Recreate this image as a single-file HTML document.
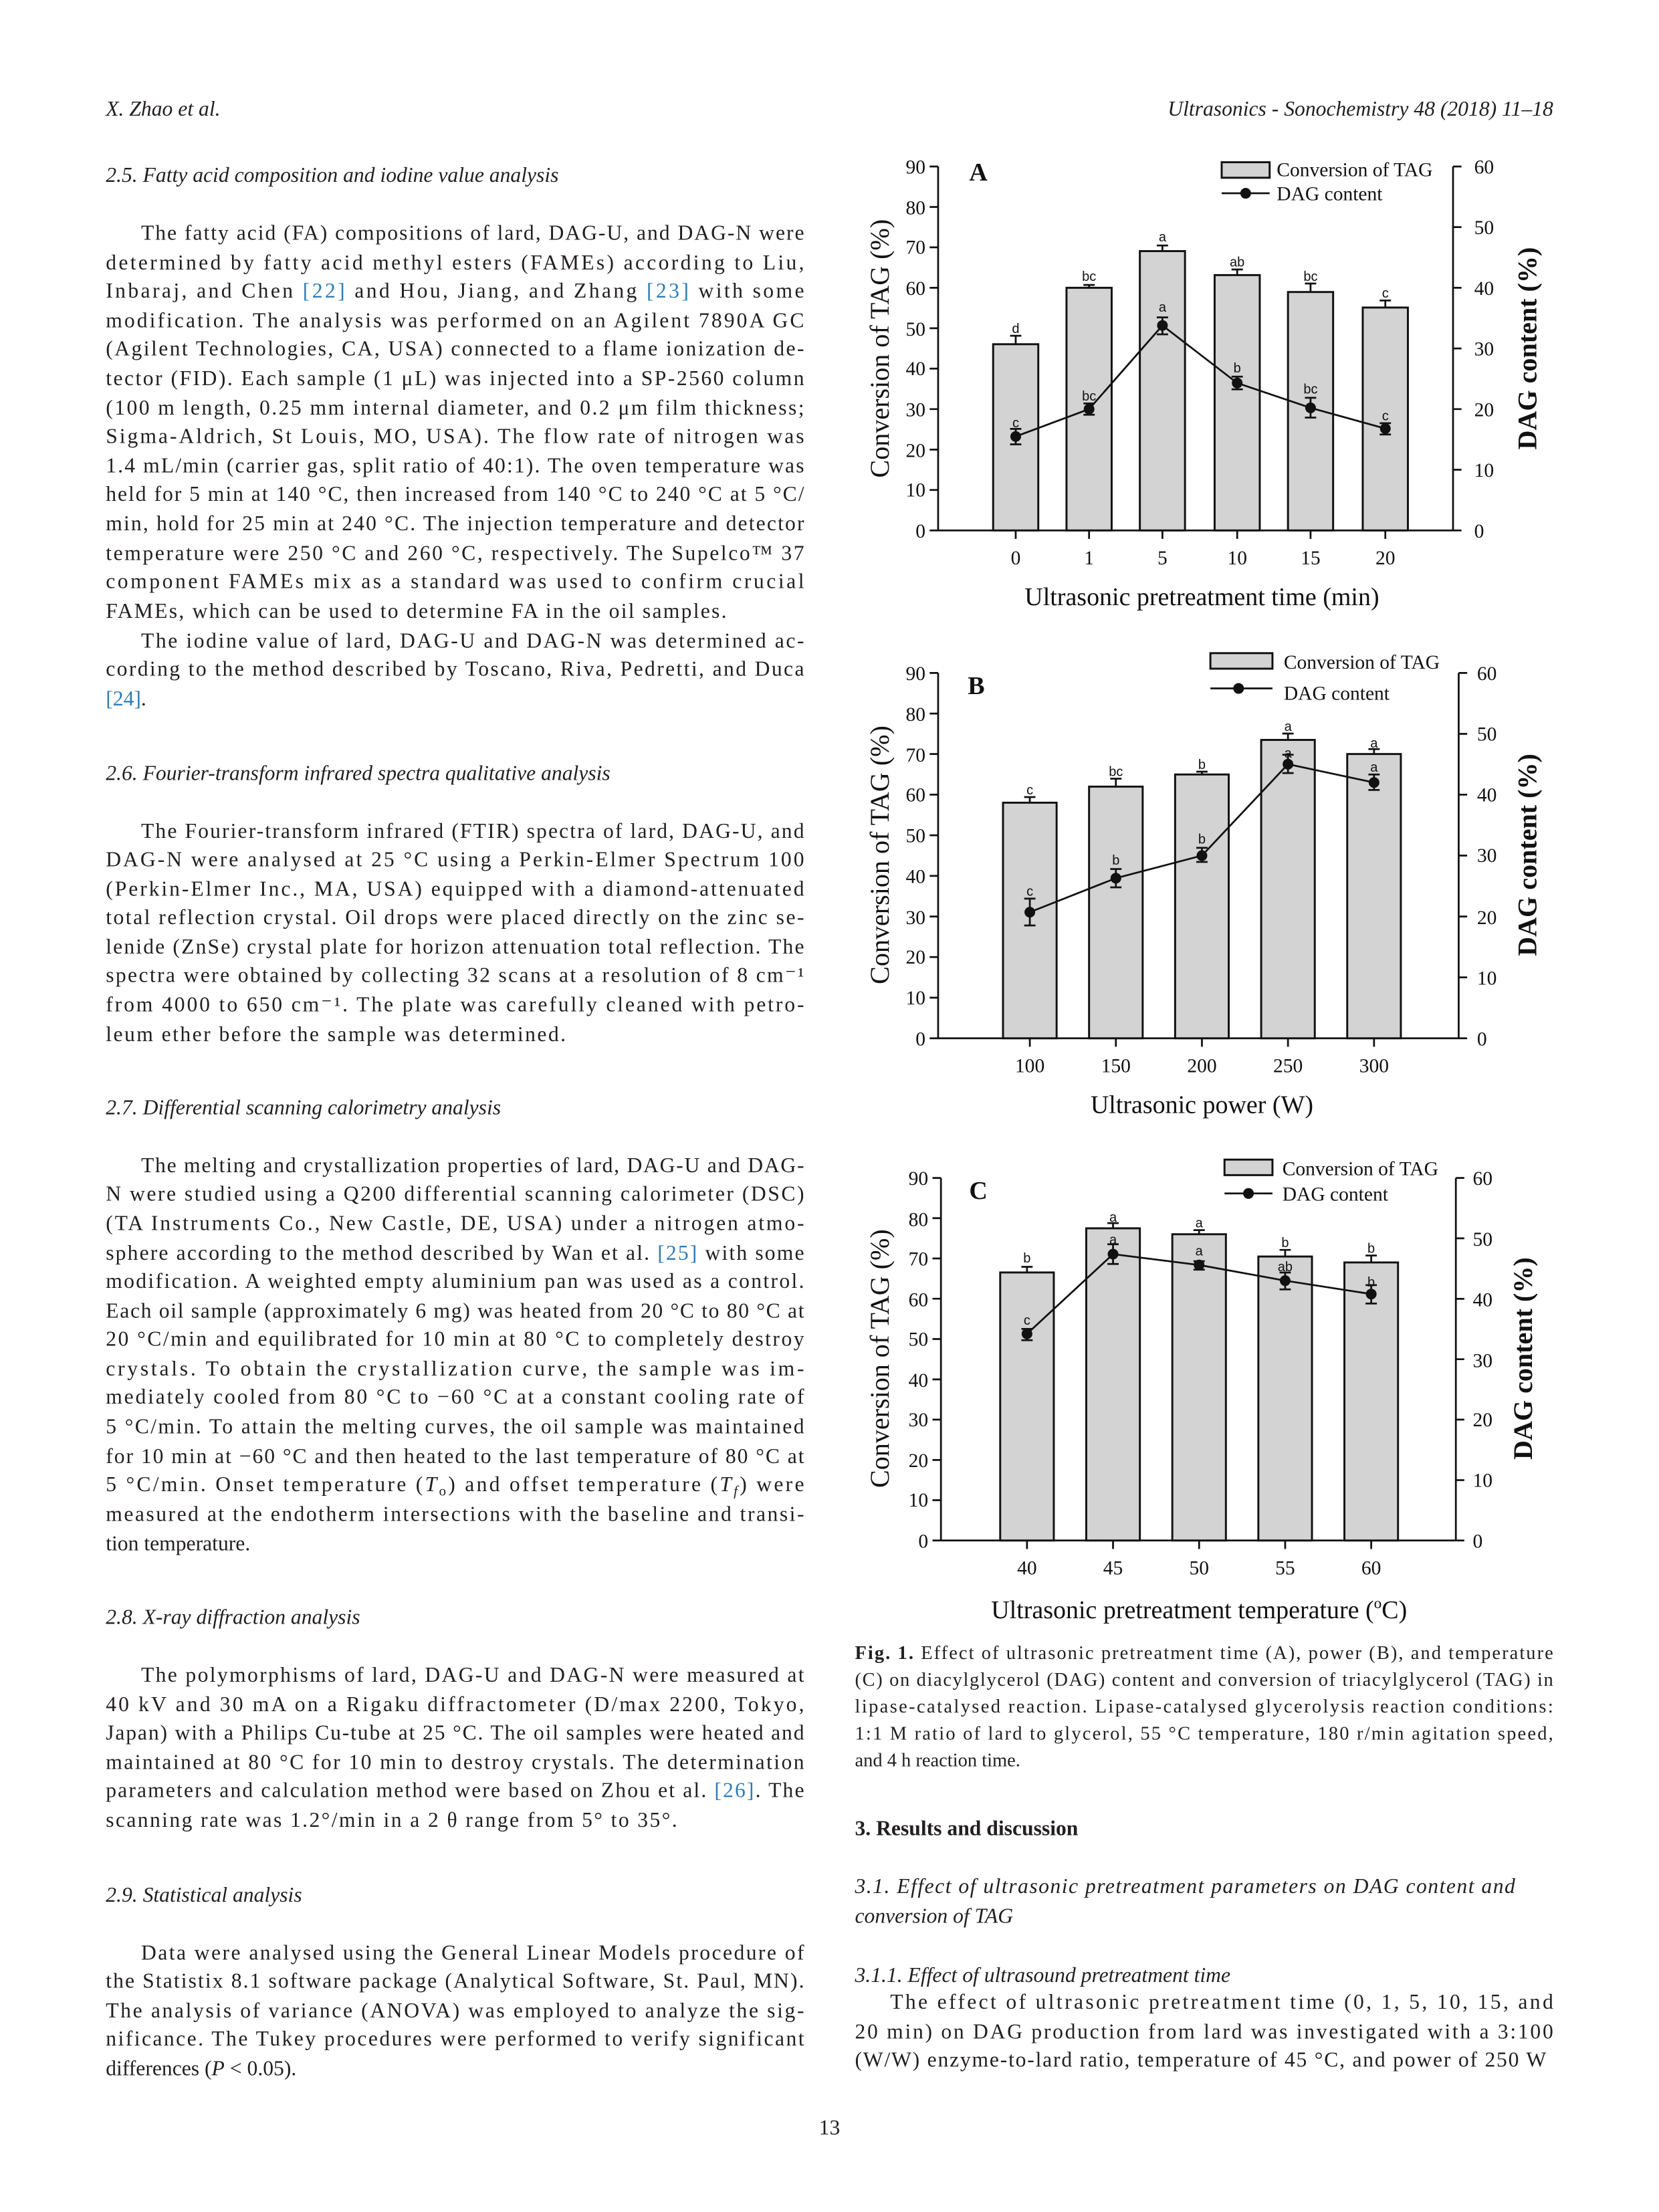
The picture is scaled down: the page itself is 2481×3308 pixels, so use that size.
<!DOCTYPE html>
<html><head><meta charset="utf-8"><style>
html,body{margin:0;padding:0;background:#fff;}
svg{display:block;}
.b{font-family:"Liberation Serif",serif;font-size:15px;fill:#231f20;}
.i{font-style:italic;}
.c{fill:#2f7cb5;}
.t{font-family:"Liberation Serif",serif;font-size:14px;fill:#111;}
.ax{font-family:"Liberation Serif",serif;font-size:18px;fill:#111;}
.yl{font-family:"Liberation Serif",serif;font-size:19px;fill:#111;}
.lt{font-family:"Liberation Sans",sans-serif;font-size:9.5px;fill:#111;}
.bar{fill:#d3d3d3;stroke:#111;stroke-width:1.4;}
.k{stroke:#111;stroke-width:1.3;fill:none;}
.cap{font-family:"Liberation Serif",serif;font-size:13.5px;fill:#231f20;}
</style></head><body>
<svg width="2481" height="3308" viewBox="0 0 1176 1568" xmlns="http://www.w3.org/2000/svg">
<rect width="1176" height="1568" fill="#fff"/>
<!-- header -->
<text x="75" y="82" class="b i" font-size="12.5">X. Zhao et al.</text>
<text x="1101" y="82" class="b i" font-size="12.5" text-anchor="end">Ultrasonics - Sonochemistry 48 (2018) 11–18</text>

<!-- left column -->
<text x="75" y="129" class="b i">2.5.  Fatty acid composition and iodine value analysis</text>
<text x="100" y="170" class="b" textLength="470" lengthAdjust="spacing">The fatty acid (FA) compositions of lard, DAG-U, and DAG-N were</text>
<text x="75" y="191" class="b" textLength="495" lengthAdjust="spacing">determined by fatty acid methyl esters (FAMEs) according to Liu,</text>
<text x="75" y="211" class="b" textLength="495" lengthAdjust="spacing">Inbaraj, and Chen <tspan class="c">[22]</tspan> and Hou, Jiang, and Zhang <tspan class="c">[23]</tspan> with some</text>
<text x="75" y="232" class="b" textLength="495" lengthAdjust="spacing">modification. The analysis was performed on an Agilent 7890A GC</text>
<text x="75" y="252" class="b" textLength="495" lengthAdjust="spacing">(Agilent Technologies, CA, USA) connected to a flame ionization de-</text>
<text x="75" y="273" class="b" textLength="495" lengthAdjust="spacing">tector (FID). Each sample (1 μL) was injected into a SP-2560 column</text>
<text x="75" y="294" class="b" textLength="495" lengthAdjust="spacing">(100 m length, 0.25 mm internal diameter, and 0.2 μm film thickness;</text>
<text x="75" y="314" class="b" textLength="495" lengthAdjust="spacing">Sigma-Aldrich, St Louis, MO, USA). The flow rate of nitrogen was</text>
<text x="75" y="335" class="b" textLength="495" lengthAdjust="spacing">1.4 mL/min (carrier gas, split ratio of 40:1). The oven temperature was</text>
<text x="75" y="355" class="b" textLength="495" lengthAdjust="spacing">held for 5 min at 140 °C, then increased from 140 °C to 240 °C at 5 °C/</text>
<text x="75" y="376" class="b" textLength="495" lengthAdjust="spacing">min, hold for 25 min at 240 °C. The injection temperature and detector</text>
<text x="75" y="397" class="b" textLength="495" lengthAdjust="spacing">temperature were 250 °C and 260 °C, respectively. The Supelco™ 37</text>
<text x="75" y="417" class="b" textLength="495" lengthAdjust="spacing">component FAMEs mix as a standard was used to confirm crucial</text>
<text x="75" y="438" class="b" textLength="440" lengthAdjust="spacing">FAMEs, which can be used to determine FA in the oil samples.</text>
<text x="100" y="459" class="b" textLength="470" lengthAdjust="spacing">The iodine value of lard, DAG-U and DAG-N was determined ac-</text>
<text x="75" y="479" class="b" textLength="495" lengthAdjust="spacing">cording to the method described by Toscano, Riva, Pedretti, and Duca</text>
<text x="75" y="500" class="b c">[24]<tspan fill="#231f20">.</tspan></text>

<text x="75" y="553" class="b i">2.6.  Fourier-transform infrared spectra qualitative analysis</text>
<text x="100" y="594" class="b" textLength="470" lengthAdjust="spacing">The Fourier-transform infrared (FTIR) spectra of lard, DAG-U, and</text>
<text x="75" y="614" class="b" textLength="495" lengthAdjust="spacing">DAG-N were analysed at 25 °C using a Perkin-Elmer Spectrum 100</text>
<text x="75" y="635" class="b" textLength="495" lengthAdjust="spacing">(Perkin-Elmer Inc., MA, USA) equipped with a diamond-attenuated</text>
<text x="75" y="655" class="b" textLength="495" lengthAdjust="spacing">total reflection crystal. Oil drops were placed directly on the zinc se-</text>
<text x="75" y="676" class="b" textLength="495" lengthAdjust="spacing">lenide (ZnSe) crystal plate for horizon attenuation total reflection. The</text>
<text x="75" y="696" class="b" textLength="495" lengthAdjust="spacing">spectra were obtained by collecting 32 scans at a resolution of 8 cm⁻¹</text>
<text x="75" y="717" class="b" textLength="495" lengthAdjust="spacing">from 4000 to 650 cm⁻¹. The plate was carefully cleaned with petro-</text>
<text x="75" y="738" class="b" textLength="326" lengthAdjust="spacing">leum ether before the sample was determined.</text>

<text x="75" y="790" class="b i">2.7.  Differential scanning calorimetry analysis</text>
<text x="100" y="831" class="b" textLength="470" lengthAdjust="spacing">The melting and crystallization properties of lard, DAG-U and DAG-</text>
<text x="75" y="851" class="b" textLength="495" lengthAdjust="spacing">N were studied using a Q200 differential scanning calorimeter (DSC)</text>
<text x="75" y="872" class="b" textLength="495" lengthAdjust="spacing">(TA Instruments Co., New Castle, DE, USA) under a nitrogen atmo-</text>
<text x="75" y="893" class="b" textLength="495" lengthAdjust="spacing">sphere according to the method described by Wan et al. <tspan class="c">[25]</tspan> with some</text>
<text x="75" y="913" class="b" textLength="495" lengthAdjust="spacing">modification. A weighted empty aluminium pan was used as a control.</text>
<text x="75" y="934" class="b" textLength="495" lengthAdjust="spacing">Each oil sample (approximately 6 mg) was heated from 20 °C to 80 °C at</text>
<text x="75" y="954" class="b" textLength="495" lengthAdjust="spacing">20 °C/min and equilibrated for 10 min at 80 °C to completely destroy</text>
<text x="75" y="975" class="b" textLength="495" lengthAdjust="spacing">crystals. To obtain the crystallization curve, the sample was im-</text>
<text x="75" y="995" class="b" textLength="495" lengthAdjust="spacing">mediately cooled from 80 °C to −60 °C at a constant cooling rate of</text>
<text x="75" y="1016" class="b" textLength="495" lengthAdjust="spacing">5 °C/min. To attain the melting curves, the oil sample was maintained</text>
<text x="75" y="1037" class="b" textLength="495" lengthAdjust="spacing">for 10 min at −60 °C and then heated to the last temperature of 80 °C at</text>
<text x="75" y="1057" class="b" textLength="495" lengthAdjust="spacing">5 °C/min. Onset temperature (<tspan class="i">T</tspan><tspan font-size="10" dy="3">o</tspan><tspan dy="-3">) and offset temperature (</tspan><tspan class="i">T</tspan><tspan font-size="10" dy="3" class="i">f</tspan><tspan dy="-3">) were</tspan></text>
<text x="75" y="1078" class="b" textLength="495" lengthAdjust="spacing">measured at the endotherm intersections with the baseline and transi-</text>
<text x="75" y="1099" class="b">tion temperature.</text>

<text x="75" y="1151" class="b i">2.8.  X-ray diffraction analysis</text>
<text x="100" y="1192" class="b" textLength="470" lengthAdjust="spacing">The polymorphisms of lard, DAG-U and DAG-N were measured at</text>
<text x="75" y="1213" class="b" textLength="495" lengthAdjust="spacing">40 kV and 30 mA on a Rigaku diffractometer (D/max 2200, Tokyo,</text>
<text x="75" y="1233" class="b" textLength="495" lengthAdjust="spacing">Japan) with a Philips Cu-tube at 25 °C. The oil samples were heated and</text>
<text x="75" y="1254" class="b" textLength="495" lengthAdjust="spacing">maintained at 80 °C for 10 min to destroy crystals. The determination</text>
<text x="75" y="1274" class="b" textLength="495" lengthAdjust="spacing">parameters and calculation method were based on Zhou et al. <tspan class="c">[26]</tspan>. The</text>
<text x="75" y="1295" class="b" textLength="405" lengthAdjust="spacing">scanning rate was 1.2°/min in a 2 θ range from 5° to 35°.</text>

<text x="75" y="1348" class="b i">2.9.  Statistical analysis</text>
<text x="100" y="1389" class="b" textLength="470" lengthAdjust="spacing">Data were analysed using the General Linear Models procedure of</text>
<text x="75" y="1409" class="b" textLength="495" lengthAdjust="spacing">the Statistix 8.1 software package (Analytical Software, St. Paul, MN).</text>
<text x="75" y="1430" class="b" textLength="495" lengthAdjust="spacing">The analysis of variance (ANOVA) was employed to analyze the sig-</text>
<text x="75" y="1450" class="b" textLength="495" lengthAdjust="spacing">nificance. The Tukey procedures were performed to verify significant</text>
<text x="75" y="1471" class="b">differences (<tspan class="i">P</tspan> &lt; 0.05).</text>

<text x="588" y="1513" class="b" font-size="12.5" text-anchor="middle">13</text>

<!-- ============ CHART A ============ -->
<g>
<line x1="665" y1="118" x2="665" y2="376" class="k"/>
<line x1="1030" y1="118" x2="1030" y2="376" class="k"/>
<line x1="665" y1="376" x2="1030" y2="376" class="k"/>
<path class="k" d="M659 376H665M659 347.3H665M659 318.7H665M659 290H665M659 261.3H665M659 232.7H665M659 204H665M659 175.3H665M659 146.7H665M659 118H665 M1030 376H1036M1030 333H1036M1030 290H1036M1030 247H1036M1030 204H1036M1030 161H1036M1030 118H1036 M720 376V382M772 376V382M824 376V382M877 376V382M929 376V382M982 376V382"/>
<g class="t" text-anchor="end">
<text x="656" y="381">0</text><text x="656" y="352">10</text><text x="656" y="324">20</text><text x="656" y="295">30</text><text x="656" y="266">40</text><text x="656" y="238">50</text><text x="656" y="209">60</text><text x="656" y="180">70</text><text x="656" y="152">80</text><text x="656" y="123">90</text>
</g>
<g class="t">
<text x="1045" y="381">0</text><text x="1045" y="338">10</text><text x="1045" y="295">20</text><text x="1045" y="252">30</text><text x="1045" y="209">40</text><text x="1045" y="166">50</text><text x="1045" y="123">60</text>
</g>
<g class="t" text-anchor="middle">
<text x="720" y="400">0</text><text x="772" y="400">1</text><text x="824" y="400">5</text><text x="877" y="400">10</text><text x="929" y="400">15</text><text x="982" y="400">20</text>
</g>
<text x="852" y="429" class="ax" text-anchor="middle">Ultrasonic pretreatment time (min)</text>
<text transform="translate(630,247) rotate(-90)" class="yl" text-anchor="middle">Conversion of TAG (%)</text>
<text transform="translate(1089,247) rotate(-90)" class="yl" font-weight="bold" text-anchor="middle">DAG content (%)</text>
<text x="687" y="128" class="ax" font-weight="bold">A</text>
<rect x="704" y="244" width="32" height="132" class="bar"/>
<rect x="756" y="204" width="32" height="172" class="bar"/>
<rect x="808" y="178" width="32" height="198" class="bar"/>
<rect x="861" y="195" width="32" height="181" class="bar"/>
<rect x="913" y="207" width="32" height="169" class="bar"/>
<rect x="966" y="218" width="32" height="158" class="bar"/>
<path class="k" d="M720 244V238M716 238H724 M772 204V202M768 202H776 M824 178V174M820 174H828 M877 195V191M873 191H881 M929 207V201M925 201H933 M982 218V213M978 213H986"/>
<g class="lt" text-anchor="middle">
<text x="720" y="236">d</text><text x="772" y="199">bc</text><text x="824" y="171">a</text><text x="877" y="189">ab</text><text x="929" y="199">bc</text><text x="982" y="211">c</text>
<text x="720" y="303">c</text><text x="772" y="284">bc</text><text x="824" y="221">a</text><text x="877" y="264">b</text><text x="929" y="279">bc</text><text x="982" y="298">c</text>
</g>
<polyline class="k" stroke-width="1.5" points="720,309.4 772,290 824,230.7 877,271.5 929,289.1 982,303.8"/>
<path class="k" d="M720 304V315M716 304H724M716 315H724 M772 286V294M768 286H776M768 294H776 M824 225V237M820 225H828M820 237H828 M877 267V276M873 267H881M873 276H881 M929 282V296M925 282H933M925 296H933 M982 300V308M978 300H986M978 308H986"/>
<g fill="#111"><circle cx="720" cy="309.4" r="3.8"/><circle cx="772" cy="290" r="3.8"/><circle cx="824" cy="230.7" r="3.8"/><circle cx="877" cy="271.5" r="3.8"/><circle cx="929" cy="289.1" r="3.8"/><circle cx="982" cy="303.8" r="3.8"/></g>
<rect x="866" y="115" width="34" height="11" class="bar"/>
<text x="905" y="125" class="t">Conversion of TAG</text>
<line x1="866" y1="137" x2="900" y2="137" class="k" stroke-width="1.5"/><circle cx="883" cy="137" r="3.8" fill="#111"/>
<text x="905" y="142" class="t">DAG content</text>
</g>

<!-- ============ CHART B ============ -->
<g>
<line x1="665" y1="477" x2="665" y2="736" class="k"/>
<line x1="1034" y1="477" x2="1034" y2="736" class="k"/>
<line x1="665" y1="736" x2="1034" y2="736" class="k"/>
<path class="k" d="M659 736H665M659 707.2H665M659 678.4H665M659 649.7H665M659 620.9H665M659 592.1H665M659 563.3H665M659 534.5H665M659 505.8H665M659 477H665 M1034 736H1040M1034 692.8H1040M1034 649.7H1040M1034 606.5H1040M1034 563.3H1040M1034 520.2H1040M1034 477H1040 M730 736V742M791 736V742M852 736V742M913 736V742M974 736V742"/>
<g class="t" text-anchor="end">
<text x="656" y="741">0</text><text x="656" y="712">10</text><text x="656" y="683">20</text><text x="656" y="655">30</text><text x="656" y="626">40</text><text x="656" y="597">50</text><text x="656" y="568">60</text><text x="656" y="540">70</text><text x="656" y="511">80</text><text x="656" y="482">90</text>
</g>
<g class="t">
<text x="1047" y="741">0</text><text x="1047" y="698">10</text><text x="1047" y="655">20</text><text x="1047" y="611">30</text><text x="1047" y="568">40</text><text x="1047" y="525">50</text><text x="1047" y="482">60</text>
</g>
<g class="t" text-anchor="middle">
<text x="730" y="760">100</text><text x="791" y="760">150</text><text x="852" y="760">200</text><text x="913" y="760">250</text><text x="974" y="760">300</text>
</g>
<text x="852" y="789" class="ax" text-anchor="middle">Ultrasonic power (W)</text>
<text transform="translate(630,606) rotate(-90)" class="yl" text-anchor="middle">Conversion of TAG (%)</text>
<text transform="translate(1089,606) rotate(-90)" class="yl" font-weight="bold" text-anchor="middle">DAG content (%)</text>
<text x="686" y="492" class="ax" font-weight="bold">B</text>
<rect x="711" y="569" width="38" height="167" class="bar"/>
<rect x="772" y="557.6" width="38" height="178.4" class="bar"/>
<rect x="833" y="549" width="38" height="187" class="bar"/>
<rect x="894" y="524.5" width="38" height="211.5" class="bar"/>
<rect x="955" y="534.5" width="38" height="201.5" class="bar"/>
<path class="k" d="M730 569V565M726 565H734 M791 557.6V552M787 552H795 M852 549V547M848 547H856 M913 524.5V520M909 520H917 M974 534.5V531M970 531H978"/>
<g class="lt" text-anchor="middle">
<text x="730" y="563">c</text><text x="791" y="550">bc</text><text x="852" y="545">b</text><text x="913" y="518">a</text><text x="974" y="530">a</text>
<text x="730" y="635">c</text><text x="791" y="613">b</text><text x="852" y="598">b</text><text x="913" y="537">a</text><text x="974" y="547">a</text>
</g>
<polyline class="k" stroke-width="1.5" points="730,646.6 791,622.5 852,606.5 913,541.7 974,554.7"/>
<path class="k" d="M730 637V656M726 637H734M726 656H734 M791 616V629M787 616H795M787 629H795 M852 601V611M848 601H856M848 611H856 M913 535V548M909 535H917M909 548H917 M974 549V560M970 549H978M970 560H978"/>
<g fill="#111"><circle cx="730" cy="646.6" r="3.8"/><circle cx="791" cy="622.5" r="3.8"/><circle cx="852" cy="606.5" r="3.8"/><circle cx="913" cy="541.7" r="3.8"/><circle cx="974" cy="554.7" r="3.8"/></g>
<rect x="858" y="463" width="44" height="11" class="bar"/>
<text x="910" y="474" class="t">Conversion of TAG</text>
<line x1="858" y1="488" x2="902" y2="488" class="k" stroke-width="1.5"/><circle cx="878" cy="488" r="3.8" fill="#111"/>
<text x="910" y="496" class="t">DAG content</text>
</g>

<!-- ============ CHART C ============ -->
<g>
<line x1="667" y1="835" x2="667" y2="1092" class="k"/>
<line x1="1032" y1="835" x2="1032" y2="1092" class="k"/>
<line x1="667" y1="1092" x2="1032" y2="1092" class="k"/>
<path class="k" d="M661 1092H667M661 1063.4H667M661 1034.9H667M661 1006.3H667M661 977.8H667M661 949.2H667M661 920.6H667M661 892.1H667M661 863.5H667M661 835H667 M1032 1092H1038M1032 1049.2H1038M1032 1006.3H1038M1032 963.5H1038M1032 920.7H1038M1032 877.8H1038M1032 835H1038 M728 1092V1098M789 1092V1098M850 1092V1098M911 1092V1098M972 1092V1098"/>
<g class="t" text-anchor="end">
<text x="658" y="1097">0</text><text x="658" y="1068">10</text><text x="658" y="1040">20</text><text x="658" y="1011">30</text><text x="658" y="983">40</text><text x="658" y="954">50</text><text x="658" y="926">60</text><text x="658" y="897">70</text><text x="658" y="869">80</text><text x="658" y="840">90</text>
</g>
<g class="t">
<text x="1044" y="1097">0</text><text x="1044" y="1054">10</text><text x="1044" y="1011">20</text><text x="1044" y="969">30</text><text x="1044" y="926">40</text><text x="1044" y="883">50</text><text x="1044" y="840">60</text>
</g>
<g class="t" text-anchor="middle">
<text x="728" y="1116">40</text><text x="789" y="1116">45</text><text x="850" y="1116">50</text><text x="911" y="1116">55</text><text x="972" y="1116">60</text>
</g>
<text x="850" y="1147" class="ax" text-anchor="middle">Ultrasonic pretreatment temperature (<tspan font-size="11" dy="-7">o</tspan><tspan dy="7">C)</tspan></text>
<text transform="translate(630,963) rotate(-90)" class="yl" text-anchor="middle">Conversion of TAG (%)</text>
<text transform="translate(1086,963) rotate(-90)" class="yl" font-weight="bold" text-anchor="middle">DAG content (%)</text>
<text x="687" y="850" class="ax" font-weight="bold">C</text>
<rect x="709" y="902" width="38" height="190" class="bar"/>
<rect x="770" y="870.7" width="38" height="221.3" class="bar"/>
<rect x="831" y="874.9" width="38" height="217.1" class="bar"/>
<rect x="892" y="890.7" width="38" height="201.3" class="bar"/>
<rect x="953" y="894.9" width="38" height="197.1" class="bar"/>
<path class="k" d="M728 902V898M724 898H732 M789 870.7V867M785 867H793 M850 874.9V872M846 872H854 M911 890.7V886M907 886H915 M972 894.9V890M968 890H976"/>
<g class="lt" text-anchor="middle">
<text x="728" y="895">b</text><text x="789" y="866">a</text><text x="850" y="870">a</text><text x="911" y="884">b</text><text x="972" y="888">b</text>
<text x="728" y="939">c</text><text x="789" y="882">a</text><text x="850" y="890">a</text><text x="911" y="901">ab</text><text x="972" y="912">b</text>
</g>
<polyline class="k" stroke-width="1.5" points="728,945.5 789,889 850,896.7 911,907.8 972,917.3"/>
<path class="k" d="M728 942V950M724 942H732M724 950H732 M789 882V896M785 882H793M785 896H793 M850 894V900M846 894H854M846 900H854 M911 902V914M907 902H915M907 914H915 M972 911V924M968 911H976M968 924H976"/>
<g fill="#111"><circle cx="728" cy="945.5" r="3.8"/><circle cx="789" cy="889" r="3.8"/><circle cx="850" cy="896.7" r="3.8"/><circle cx="911" cy="907.8" r="3.8"/><circle cx="972" cy="917.3" r="3.8"/></g>
<rect x="868" y="822" width="34" height="11" class="bar"/>
<text x="909" y="833" class="t">Conversion of TAG</text>
<line x1="868" y1="846" x2="902" y2="846" class="k" stroke-width="1.5"/><circle cx="885" cy="846" r="3.8" fill="#111"/>
<text x="909" y="851" class="t">DAG content</text>
</g>

<!-- caption -->
<text x="606" y="1176" class="cap" textLength="495" lengthAdjust="spacing"><tspan font-weight="bold">Fig. 1.</tspan> Effect of ultrasonic pretreatment time (A), power (B), and temperature</text>
<text x="606" y="1195" class="cap" textLength="495" lengthAdjust="spacing">(C) on diacylglycerol (DAG) content and conversion of triacylglycerol (TAG) in</text>
<text x="606" y="1214" class="cap" textLength="495" lengthAdjust="spacing">lipase-catalysed reaction. Lipase-catalysed glycerolysis reaction conditions:</text>
<text x="606" y="1233" class="cap" textLength="495" lengthAdjust="spacing">1:1 M ratio of lard to glycerol, 55 °C temperature, 180 r/min agitation speed,</text>
<text x="606" y="1252" class="cap">and 4 h reaction time.</text>

<text x="606" y="1301" class="b" font-weight="bold">3.  Results and discussion</text>
<text x="606" y="1342" class="b i" textLength="468" lengthAdjust="spacing">3.1.  Effect of ultrasonic pretreatment parameters on DAG content and</text>
<text x="606" y="1363" class="b i">conversion of TAG</text>
<text x="606" y="1405" class="b i">3.1.1.  Effect of ultrasound pretreatment time</text>
<text x="631" y="1424" class="b" textLength="470" lengthAdjust="spacing">The effect of ultrasonic pretreatment time (0, 1, 5, 10, 15, and</text>
<text x="606" y="1445" class="b" textLength="495" lengthAdjust="spacing">20 min) on DAG production from lard was investigated with a 3:100</text>
<text x="606" y="1465" class="b" textLength="490" lengthAdjust="spacing">(W/W) enzyme-to-lard ratio, temperature of 45 °C, and power of 250 W</text>
</svg>
</body></html>
